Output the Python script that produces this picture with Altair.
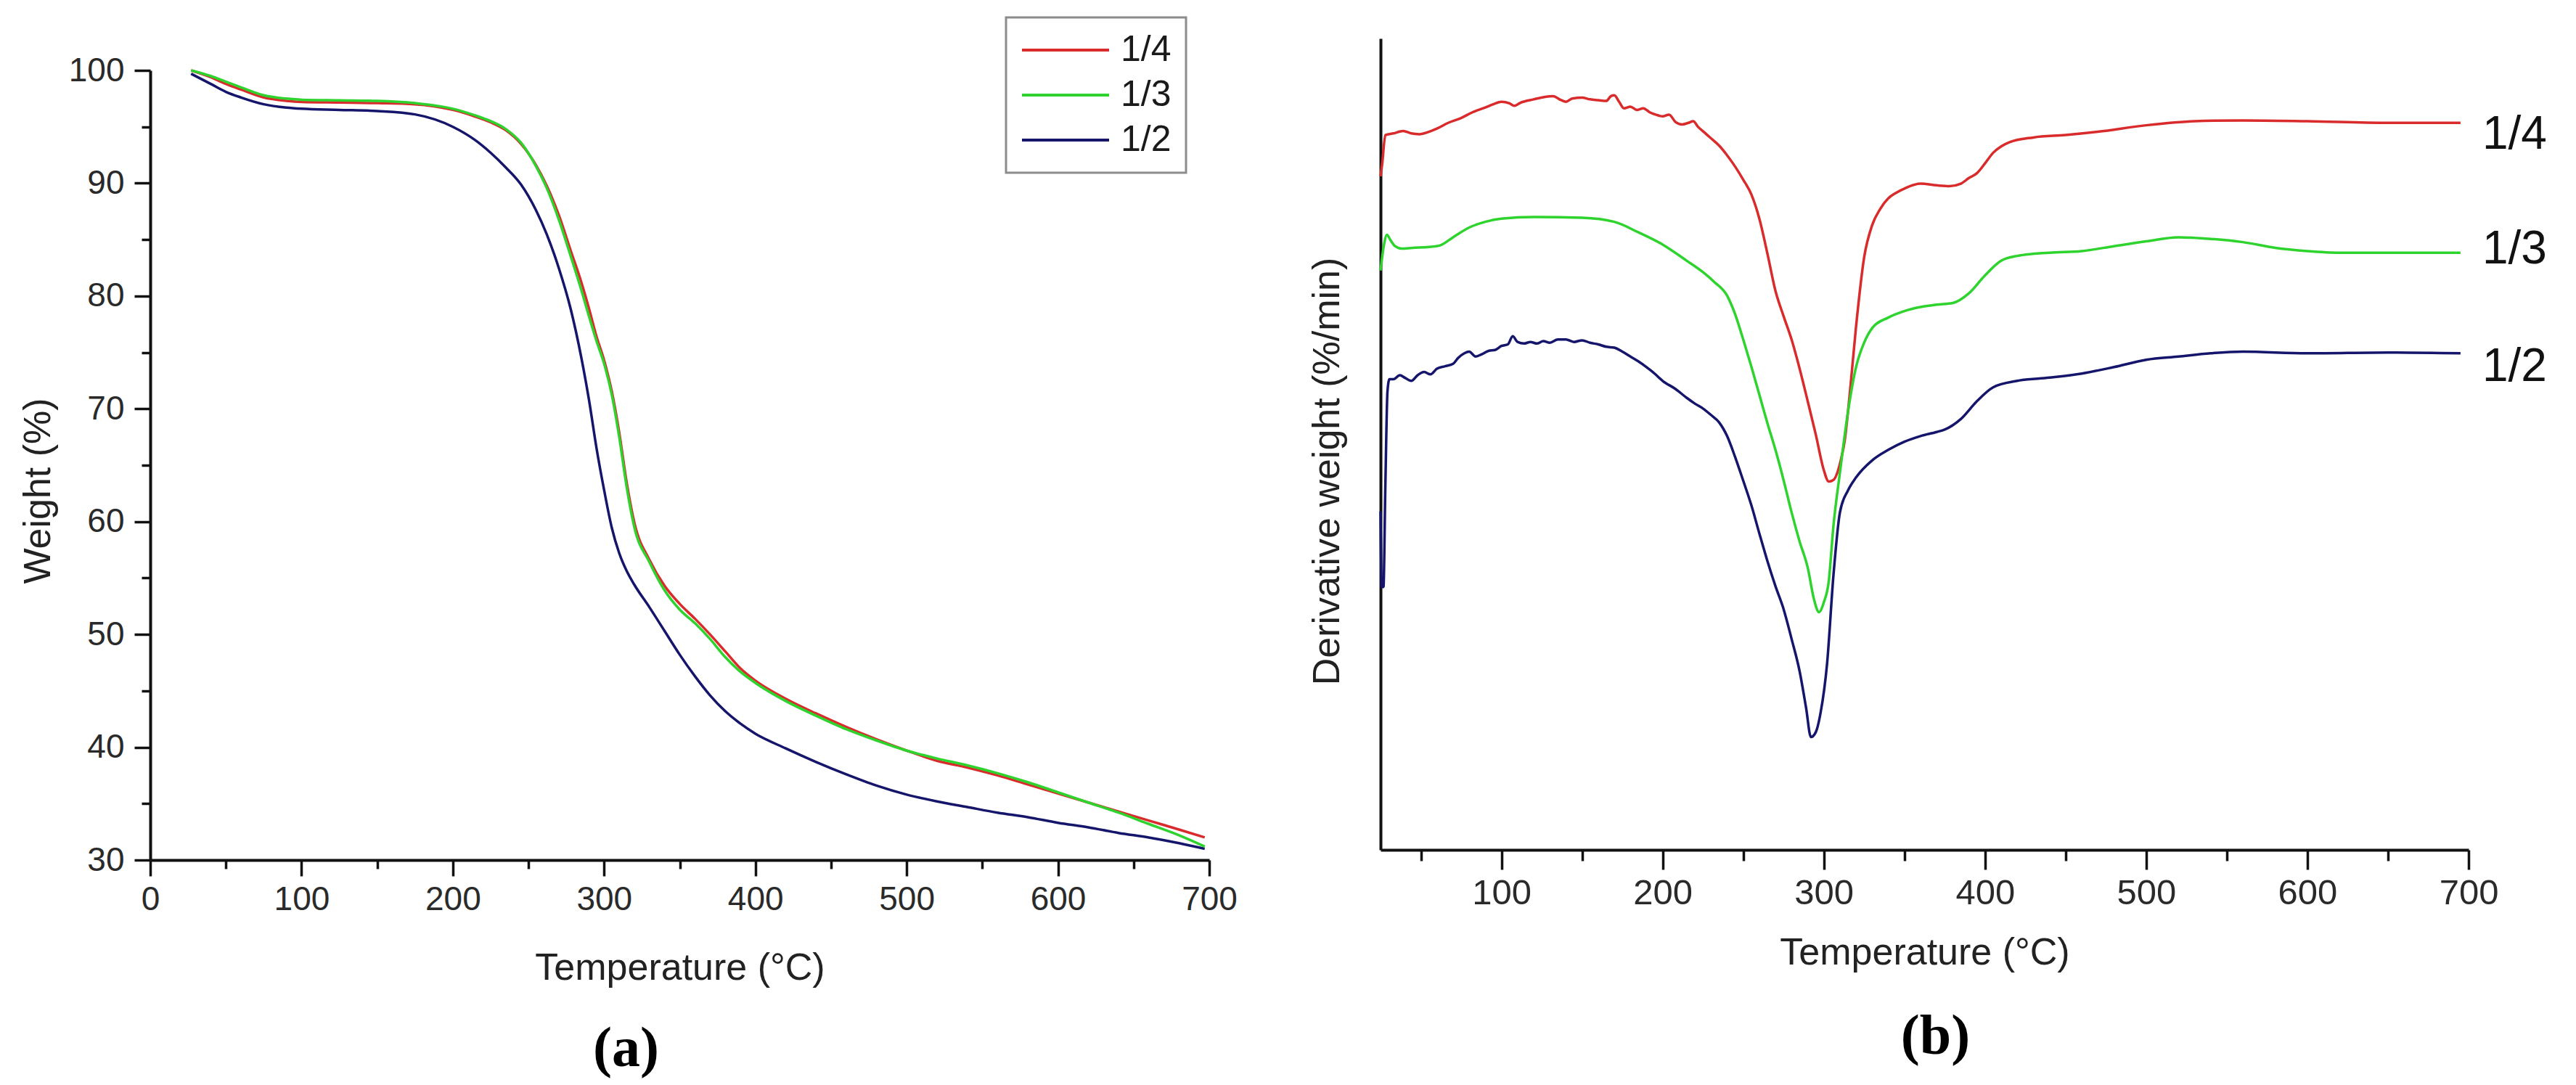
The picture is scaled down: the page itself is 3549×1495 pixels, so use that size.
import altair as alt
import pandas as pd

# ---------------- data ----------------
series_names = ["1/4", "1/3", "1/2"]
series_colors = ["#D92B2B", "#2ED32E", "#15156B"]

# (a) TGA curves: temperature (°C) vs weight (%)
tga_temp = [27, 40, 50, 60, 75, 90, 100, 125, 150, 175, 200, 215, 225, 235, 245, 255, 262,
            270, 278, 285, 290, 295, 300, 305, 310, 315, 320, 330, 340, 350, 360, 370, 380,
            390, 400, 420, 440, 460, 480, 500, 520, 540, 560, 580, 600, 620, 640, 660, 680, 697]
tga_weight_14 = [100.0, 99.4, 98.8, 98.3, 97.6, 97.3, 97.2, 97.15, 97.1, 97.0, 96.5, 95.9, 95.4,
                 94.7, 93.5, 91.6, 89.8, 87.2, 84.0, 81.2, 78.9, 76.4, 74.3, 71.6, 67.9, 63.4,
                 59.9, 56.6, 54.3, 52.7, 51.4, 50.0, 48.5, 47.0, 45.9, 44.3, 43.0, 41.8, 40.7,
                 39.7, 38.8, 38.2, 37.5, 36.7, 35.9, 35.1, 34.3, 33.5, 32.7, 32.0]
tga_weight_13 = [100.0, 99.5, 99.0, 98.5, 97.8, 97.5, 97.4, 97.35, 97.3, 97.1, 96.6, 96.0, 95.5,
                 94.8, 93.6, 91.5, 89.6, 86.8, 83.5, 80.5, 78.2, 76.0, 74.0, 71.3, 67.5, 63.0,
                 59.5, 56.4, 53.9, 52.2, 51.0, 49.6, 48.0, 46.7, 45.7, 44.1, 42.8, 41.6, 40.6,
                 39.7, 39.0, 38.4, 37.7, 36.9, 36.0, 35.1, 34.2, 33.2, 32.2, 31.2]
tga_weight_12 = [99.7, 98.8, 98.1, 97.6, 97.0, 96.7, 96.6, 96.5, 96.4, 96.1, 95.0, 93.8, 92.7,
                 91.4, 89.9, 87.6, 85.5, 82.5, 78.8, 74.5, 70.8, 66.5, 62.8, 59.5, 57.2, 55.6,
                 54.4, 52.4, 50.3, 48.2, 46.3, 44.6, 43.2, 42.1, 41.2, 39.9, 38.7, 37.6, 36.6,
                 35.8, 35.2, 34.7, 34.2, 33.8, 33.3, 32.9, 32.4, 32.0, 31.5, 31.0]

# (b) DTG curves: temperature (°C) vs derivative weight (arbitrary, offset curves)
dtg_temp_14 = [25, 26, 28, 33, 39, 44, 49, 55, 60, 67, 75, 82, 90, 95, 100, 105, 108, 112, 120,
               127, 132, 137, 140, 144, 150, 155, 160, 165, 168, 170, 173, 176, 180, 184, 188,
               192, 196, 200, 204, 208, 212, 216, 219, 222, 226, 230, 235, 240, 245, 250, 255,
               260, 265, 270, 275, 280, 285, 290, 295, 300, 303, 306, 310, 313, 316, 320, 325,
               330, 335, 340, 345, 350, 360, 370, 378, 385, 390, 395, 400, 405, 410, 415, 430,
               450, 470, 500, 530, 560, 600, 650, 695]
dtg_value_14 = [83.0, 84.5, 88.1, 88.3, 88.6, 88.3, 88.2, 88.5, 88.9, 89.6, 90.2, 90.9, 91.5,
                91.9, 92.2, 92.0, 91.7, 92.1, 92.5, 92.8, 92.9, 92.4, 92.2, 92.6, 92.7, 92.5,
                92.4, 92.3, 92.9, 93.0, 92.2, 91.4, 91.6, 91.2, 91.4, 90.9, 90.6, 90.4, 90.6,
                89.7, 89.4, 89.6, 89.8, 89.1, 88.4, 87.7, 86.8, 85.6, 84.2, 82.6, 80.8, 77.8,
                73.5, 68.9, 65.8, 62.9, 59.3, 55.3, 51.2, 46.8, 45.4, 45.6, 47.6, 50.5, 56.0,
                64.5, 73.0, 77.0, 79.0, 80.3, 81.0, 81.5, 82.1, 81.9, 81.8, 82.1, 82.8, 83.4,
                84.6, 85.9, 86.7, 87.2, 87.8, 88.1, 88.5, 89.3, 89.8, 89.9, 89.8, 89.6, 89.6]

dtg_temp_13 = [25, 27, 29, 31, 34, 38, 45, 55, 62, 70, 80, 90, 100, 120, 150, 170, 185, 200,
               215, 225, 232, 240, 245, 250, 255, 260, 265, 270, 275, 280, 285, 290, 294, 297,
               300, 303, 306, 310, 315, 320, 325, 330, 340, 350, 360, 370, 380, 390, 400, 410,
               420, 440, 460, 480, 500, 520, 540, 560, 580, 600, 620, 650, 695]
dtg_value_13 = [71.4, 74.4, 75.8, 75.2, 74.4, 74.1, 74.2, 74.3, 74.5, 75.5, 76.7, 77.4, 77.8,
                78.0, 77.9, 77.4, 76.1, 74.6, 72.6, 71.2, 70.0, 68.3, 66.0, 62.9, 59.6, 56.1,
                52.6, 49.3, 45.6, 41.6, 38.0, 34.8, 30.8, 29.3, 30.5, 33.0, 40.0, 46.5, 54.0,
                59.5, 62.5, 64.3, 65.6, 66.4, 66.9, 67.2, 67.4, 68.6, 70.8, 72.6, 73.2, 73.6,
                73.8, 74.4, 75.0, 75.5, 75.3, 74.9, 74.2, 73.8, 73.6, 73.6, 73.6]

dtg_temp_12 = [25, 25.7, 26.8, 28, 29.3, 30.5, 33, 37, 40, 44, 48, 52, 56, 60, 65, 70, 73, 77,
               80, 84, 88, 92, 96, 100, 104, 107, 110, 114, 118, 122, 126, 130, 135, 140, 145,
               150, 155, 160, 165, 170, 175, 180, 185, 190, 195, 200, 208, 215, 220, 225, 230,
               235, 240, 245, 250, 255, 260, 265, 270, 275, 280, 285, 289, 292, 295, 298, 302,
               306, 310, 315, 320, 330, 340, 350, 360, 370, 375, 385, 395, 405, 420, 440, 460,
               480, 500, 520, 540, 560, 600, 650, 695]
dtg_value_12 = [41.7, 32.4, 32.4, 45.0, 56.5, 58.0, 58.0, 58.5, 58.2, 57.8, 58.5, 58.9, 58.6,
                59.3, 59.6, 59.9, 60.6, 61.2, 61.4, 60.8, 61.1, 61.5, 61.6, 62.1, 62.3, 63.3,
                62.6, 62.4, 62.6, 62.4, 62.7, 62.5, 62.9, 62.9, 62.6, 62.8, 62.5, 62.3, 62.0,
                61.9, 61.4, 60.8, 60.2, 59.5, 58.7, 57.8, 56.8, 55.7, 55.0, 54.4, 53.6, 52.7,
                51.0, 48.4, 45.5, 42.5, 39.0, 35.6, 32.5, 29.7, 26.0, 22.0, 17.5, 13.9, 14.5,
                16.9, 22.9, 33.9, 41.6, 44.3, 45.9, 48.0, 49.3, 50.3, 51.0, 51.5, 51.8, 53.1,
                55.3, 57.0, 57.8, 58.2, 58.7, 59.5, 60.4, 60.8, 61.2, 61.4, 61.2, 61.3, 61.2]

# levels of the curve labels at the right end of (b)
dtg_label_level = [88.1, 74.0, 59.5]

x_ticks_left = list(range(0, 701, 50))
y_ticks_left = list(range(30, 101, 5))
x_ticks_right = list(range(50, 701, 50))

# ---------------- tables ----------------
tga_rows = []
for name, vals in [("1/4", tga_weight_14), ("1/2", tga_weight_12), ("1/3", tga_weight_13)]:
    for t, w in zip(tga_temp, vals):
        tga_rows.append({"T": t, "W": w, "series": name})
tga_df = pd.DataFrame(tga_rows)

dtg_rows = []
for name, temps, vals in [("1/4", dtg_temp_14, dtg_value_14),
                          ("1/3", dtg_temp_13, dtg_value_13),
                          ("1/2", dtg_temp_12, dtg_value_12)]:
    for t, v in zip(temps, vals):
        dtg_rows.append({"T": t, "D": v, "series": name})
dtg_df = pd.DataFrame(dtg_rows)

label_df = pd.DataFrame({
    "T": [dtg_temp_14[-1], dtg_temp_13[-1], dtg_temp_12[-1]],
    "D": dtg_label_level,
    "series": series_names,
})

# ---------------- style ----------------
TICK_FONT = "Liberation Sans Narrow, Arial Narrow, Liberation Sans, Arial, sans-serif"
TEXT_FONT = "Liberation Sans, Arial, sans-serif"
CAPTION_FONT = "Liberation Serif, Times New Roman, serif"
AX = "#111111"
MAJOR_X = "datum.value % 100 === 0"
MAJOR_Y = "datum.value % 10 === 0"

common_axis = dict(domainColor=AX, domainWidth=4, tickColor=AX, tickWidth=3.5, grid=False,
                   labelColor="#2a2a2a", labelFont=TICK_FONT, titleFont=TEXT_FONT,
                   titleFontSize=52, titleFontWeight="normal", titleColor="#222222",
                   labelFlush=False, labelOverlap=False)

color_scale = alt.Scale(domain=series_names, range=series_colors)

# ---------------- panel (a) ----------------
left = alt.Chart(tga_df).mark_line(strokeWidth=3.5, interpolate="monotone").encode(
    x=alt.X("T:Q", scale=alt.Scale(domain=[0, 700], nice=False, zero=False),
            axis=alt.Axis(title="Temperature (°C)", values=x_ticks_left,
                          labelExpr=f"{MAJOR_X} ? datum.label : ''",
                          tickSize={"condition": {"test": MAJOR_X, "value": 22}, "value": 12},
                          labelFontSize=46, labelPadding=10,
                          titleY=123, titleBaseline="top", **common_axis)),
    y=alt.Y("W:Q", scale=alt.Scale(domain=[30, 100], range=[1132, 44], nice=False, zero=False),
            axis=alt.Axis(title="Weight (%)", values=y_ticks_left,
                          labelExpr=f"{MAJOR_Y} ? datum.label : ''",
                          tickSize={"condition": {"test": MAJOR_Y, "value": 22}, "value": 12},
                          labelFontSize=46, labelPadding=14,
                          titleX=-155, titleY=623, titleBaseline="middle", titleAlign="center",
                          **common_axis)),
    color=alt.Color("series:N", scale=color_scale,
                    legend=alt.Legend(title=None, orient="none", legendX=1179, legendY=-29,
                                      direction="vertical", symbolType="stroke",
                                      symbolSize=14400, symbolStrokeWidth=4, clipHeight=50,
                                      labelFont=TEXT_FONT, labelFontSize=50,
                                      labelColor="#1a1a1a", labelOffset=14, padding=20,
                                      rowPadding=12, strokeColor="#8c8c8c",
                                      fillColor="white")),
).properties(
    width=1459, height=1132,
    title=alt.TitleParams(text="(a)", orient="bottom", anchor="middle", frame="group",
                          font=CAPTION_FONT, fontSize=78, fontWeight="bold", color="#000000",
                          offset=48, dx=-74),
)

# ---------------- panel (b) ----------------
right_lines = alt.Chart(dtg_df).mark_line(strokeWidth=3.5, interpolate="monotone").encode(
    x=alt.X("T:Q", scale=alt.Scale(domain=[25, 700], nice=False, zero=False),
            axis=alt.Axis(title="Temperature (°C)", values=x_ticks_right,
                          labelExpr=f"{MAJOR_X} ? datum.label : ''",
                          tickSize={"condition": {"test": MAJOR_X, "value": 27}, "value": 15},
                          labelFontSize=49, labelPadding=8,
                          titleY=116, titleBaseline="top", **common_axis)),
    y=alt.Y("D:Q", scale=alt.Scale(domain=[0, 100], nice=False, zero=False),
            axis=alt.Axis(title="Derivative weight (%/min)", labels=False, ticks=False,
                          titleX=-74, titleY=596, titleBaseline="middle", titleAlign="center",
                          **common_axis)),
    color=alt.Color("series:N", scale=color_scale, legend=None),
)

right_labels = alt.Chart(label_df).mark_text(
    align="left", baseline="middle", dx=30, font=TEXT_FONT, fontSize=64, color="#111111"
).encode(
    x=alt.X("T:Q"),
    y=alt.Y("D:Q"),
    text="series:N",
)

right = alt.layer(right_lines, right_labels).properties(
    width=1499, height=1118,
    title=alt.TitleParams(text="(b)", orient="bottom", anchor="middle", frame="group",
                          font=CAPTION_FONT, fontSize=78, fontWeight="bold", color="#000000",
                          offset=52, dx=15),
)

chart = alt.hconcat(left, right, spacing=236, bounds="flush").resolve_scale(
    color="independent"
).properties(
    padding={"left": 17, "top": 14, "right": 20, "bottom": 0},
    background="white",
).configure_view(stroke="transparent").configure_legend(strokeWidth=3)

chart.save("out.html", embed_options={"renderer": "svg", "actions": False})
